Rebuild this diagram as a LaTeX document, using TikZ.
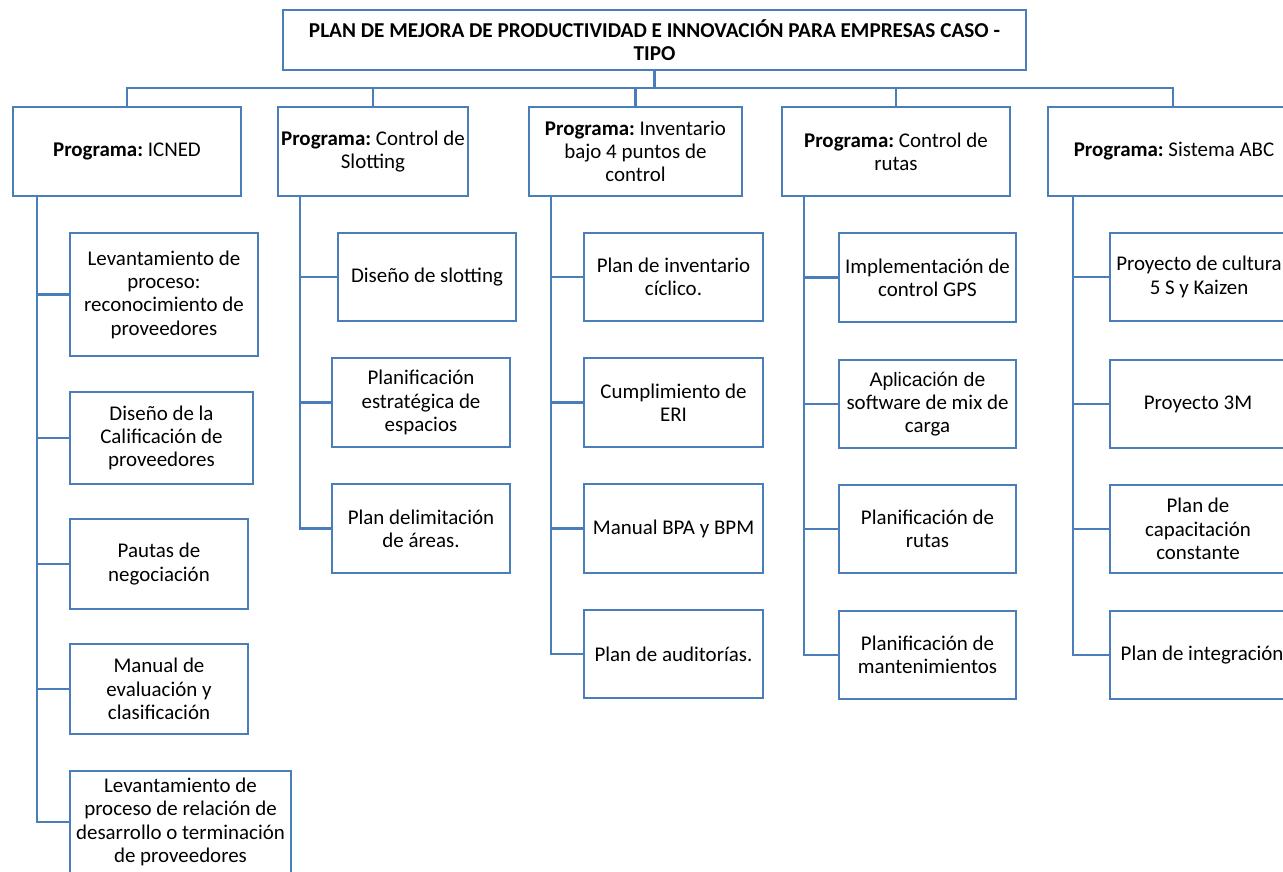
\documentclass[tikz,border=0pt]{standalone}
\usepackage{fontspec}
\setmainfont{Carlito}
\newfontfamily\arialf{Liberation Sans}
\definecolor{ln}{RGB}{74,126,187}
\tikzset{
  bx/.style={draw=ln, line width=1.9pt, fill=white, inner sep=0pt, align=center,
    font=\fontsize{15.7}{17.5}\selectfont},
  cn/.style={draw=ln, line width=1.9pt},
}
\newcommand{\mybox}[6]{%
  \node[bx, minimum width={(#4-#2)*0.75pt}, minimum height={(#5-#3)*0.75pt}]
    (#1) at ({(#2+#4)/2},{(#3+#5)/2}) {#6};}
\begin{document}
\frenchspacing
\begin{tikzpicture}[x=0.75pt,y=-0.75pt]
\useasboundingbox (0,0) rectangle (1283,872);
\clip (0,0) rectangle (1283,872);
\fill[white] (0,0) rectangle (1283,872);
% title
\node[bx, minimum width={743*0.75pt}, minimum height={60*0.75pt},
  font=\fontsize{15.9}{17.3}\selectfont\bfseries] (title) at (654.5,40)
  {PLAN DE MEJORA DE PRODUCTIVIDAD E INNOVACIÓN PARA EMPRESAS CASO -\\TIPO};
% programs
\mybox{p1}{13}{107}{241}{196}{\textbf{Programa:} ICNED}
\mybox{p2}{278}{107}{468}{196}{\textbf{Programa:} Control de\\Slotting}
\mybox{p3}{529}{107}{742}{196}{\textbf{Programa:} Inventario\\bajo 4 puntos de\\control}
\mybox{p4}{782}{107}{1010}{196}{\textbf{Programa:} Control de\\rutas}
\node[bx, minimum width={250*0.75pt}, minimum height={89*0.75pt}] (p5) at (1173,151.5) {};
\node[font=\fontsize{15.7}{17.5}\selectfont] at (1174,151.5) {\textbf{Programa:} Sistema ABC};
% bus
\coordinate (bus) at (0,88);
\draw[cn] (title.south) -- (title.south |- bus);
\draw[cn] (p1.north) -- (p1.north |- bus) -- (p5.north |- bus) -- (p5.north);
\foreach \p in {p2,p3,p4} \draw[cn] (\p.north) -- (\p.north |- bus);
% column 1
\mybox{c1}{70}{233}{258}{356}{Levantamiento de\\proceso:\\reconocimiento de\\proveedores}
\mybox{c2}{70}{392}{253}{484}{Diseño de la\\Calificación de\\proveedores}
\mybox{c3}{70}{519}{248}{609}{Pautas de\\negociación}
\mybox{c4}{70}{644}{248}{734}{Manual de\\evaluación y\\clasificación}
\mybox{c5}{70}{771}{291}{873}{Levantamiento de\\proceso de relación de\\desarrollo o terminación\\de proveedores}
% column 2
\mybox{d1}{338}{233}{516}{321}{Diseño de slotting}
\mybox{d2}{332}{358}{510}{447}{Planificación\\estratégica de\\espacios}
\mybox{d3}{332}{484}{510}{573}{Plan delimitación\\de áreas.}
% column 3
\mybox{e1}{584}{233}{763}{321}{Plan de inventario\\cíclico.}
\mybox{e2}{584}{358}{763}{447}{Cumplimiento de\\ERI}
\mybox{e3}{584}{484}{763}{573}{Manual BPA y BPM}
\mybox{e4}{584}{610}{763}{698}{Plan de auditorías.}
% column 4
\mybox{f1}{839}{233}{1016}{322}{Implementación de\\control GPS}
\mybox{f2}{839}{360}{1016}{448}{{\arialf\fontsize{14.6}{17}\selectfont Aplicación de}\\software de mix de\\carga}
\mybox{f3}{839}{485}{1016}{573}{Planificación de\\rutas}
\mybox{f4}{839}{611}{1016}{699}{Planificación de\\mantenimientos}
% column 5
\node[bx, minimum width={180*0.75pt}, minimum height={88*0.75pt}] (g1) at (1200,277) {};
\node[font=\fontsize{15.7}{17.5}\selectfont, align=center] at (1199,277) {Proyecto de cultura\\5 S y Kaizen};
\mybox{g2}{1110}{360}{1286}{448}{Proyecto 3M}
\mybox{g3}{1110}{485}{1286}{573}{Plan de\\capacitación\\constante}
\node[bx, minimum width={180*0.75pt}, minimum height={88*0.75pt}] (g4) at (1200,655) {};
\node[font=\fontsize{15.7}{17.5}\selectfont, anchor=west] at (1116,655) {Plan de integración};
% trunks
\coordinate (t1) at (37,0);
\coordinate (t2) at (300,0);
\coordinate (t3) at (551,0);
\coordinate (t4) at (804,0);
\coordinate (t5) at (1073,0);
\draw[cn] (t1 |- p1.south) -- (t1 |- c5.west) -- (c5.west);
\foreach \c in {c1,c2,c3,c4} \draw[cn] (t1 |- \c.west) -- (\c.west);
\draw[cn] (t2 |- p2.south) -- (t2 |- d3.west) -- (d3.west);
\foreach \c in {d1,d2} \draw[cn] (t2 |- \c.west) -- (\c.west);
\draw[cn] (t3 |- p3.south) -- (t3 |- e4.west) -- (e4.west);
\foreach \c in {e1,e2,e3} \draw[cn] (t3 |- \c.west) -- (\c.west);
\draw[cn] (t4 |- p4.south) -- (t4 |- f4.west) -- (f4.west);
\foreach \c in {f1,f2,f3} \draw[cn] (t4 |- \c.west) -- (\c.west);
\draw[cn] (t5 |- p5.south) -- (t5 |- g4.west) -- (g4.west);
\foreach \c in {g1,g2,g3} \draw[cn] (t5 |- \c.west) -- (\c.west);
\end{tikzpicture}
\end{document}
